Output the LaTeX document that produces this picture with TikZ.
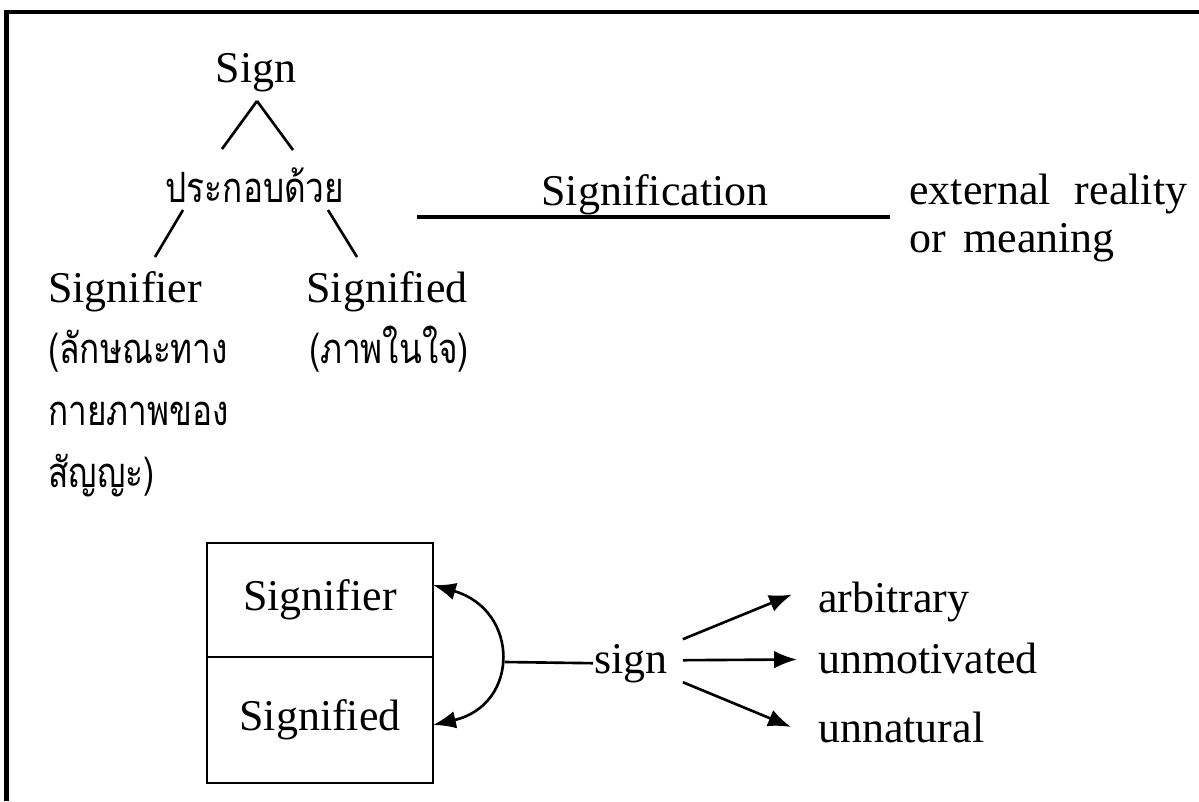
\documentclass[tikz,border=0pt]{standalone}
\usepackage{fontspec}
\usepackage{graphicx}
\setmainfont{Liberation Serif}
\newfontfamily\thaifont[Script=Thai]{Loma}
\newcommand{\thtext}[1]{\scalebox{1}[1.25]{\thaifont #1}}
\usepackage{tikz}
\usetikzlibrary{arrows.meta}

\begin{document}
\begin{tikzpicture}[x=0.02cm, y=-0.02cm, line width=1.5pt,
  every node/.style={inner sep=0pt, font=\fontsize{25}{29}\selectfont},
  thai/.style={font=\fontsize{19}{23}\selectfont},
  half/.style={draw, outer sep=0pt, minimum width=4.52cm},
  arr/.style={-{Latex[length=13pt,width=10pt]}},
  darr/.style={{Latex[length=13pt,width=10pt]}-{Latex[length=13pt,width=10pt]}}]
\useasboundingbox (0,0) rectangle (1199,801);
\draw[line width=2.6pt] (6.5,801) -- (6.5,12) -- (1199,12);

\node[anchor=base] (sign) at (256,82) {Sign};
\node[thai, anchor=base] (prakop) at (255,202) {\thtext{ประกอบด้วย}};
\node[anchor=base west] (sfier) at (47,302) {Signifier};
\node[anchor=base] (sfied) at (387,302) {Signified};
\node[thai, anchor=base west] (sfier1) at (47,363) {\thtext{(ลักษณะทาง}};
\node[thai, anchor=base west] (sfier2) at (47,425) {\thtext{กายภาพของ}};
\node[thai, anchor=base west] (sfier3) at (47,487) {\thtext{สัญญะ)}};
\node[thai, anchor=base] (sfied1) at (389,363) {\thtext{(ภาพในใจ)}};
\node[anchor=base] (signif) at (655,205) {Signification};
\node[anchor=base west] (ext1) at (908,204) {external\hspace{0.55em}reality};
\node[anchor=base west] (ext2) at (908,252) {or\hspace{0.4em}meaning};

\coordinate (apex) at (257,101);
\coordinate (a1) at (222,149);
\coordinate (a2) at (293,150);
\coordinate (b1) at (183,210);
\coordinate (b2) at (155,257);
\coordinate (c1) at (328,210);
\coordinate (c2) at (357,257);
\draw (apex) -- (a1);
\draw (apex) -- (a2);
\draw (b1) -- (b2);
\draw (c1) -- (c2);

\coordinate (sl) at (417,217);
\coordinate (sr) at (890,217);
\draw[line width=2pt] (sl) -- (sr);

\node[half, minimum height=2.28cm] (upbox) at (320,600) {Signifier};
\node[half, minimum height=2.52cm, anchor=north] (lowbox) at (upbox.south) {Signified};
\draw[darr] ([yshift=0.3cm]upbox.east) .. controls +(87,25) and +(87,-20) .. ([yshift=-0.1cm]lowbox.east);

\node[anchor=base west] (sgn) at (593,673) {sign};
\node[anchor=base west] (arb) at (817,612) {arbitrary};
\node[anchor=base west] (unm) at (817,673) {unmotivated};
\node[anchor=base west] (unn) at (817,742) {unnatural};

\coordinate (sgl) at (505,662);
\draw (sgl) -- (sgn.west);
\draw[arr] ([xshift=0.28cm, yshift=0.48cm]sgn.east) -- ([xshift=-0.5cm, yshift=0.14cm]arb.west);
\draw[arr] ([xshift=0.28cm, yshift=0.06cm]sgn.east) -- ([xshift=-0.4cm, yshift=-0.03cm]unm.west);
\draw[arr] ([xshift=0.28cm, yshift=-0.38cm]sgn.east) -- ([xshift=-0.52cm]unn.west);
\end{tikzpicture}
\end{document}
